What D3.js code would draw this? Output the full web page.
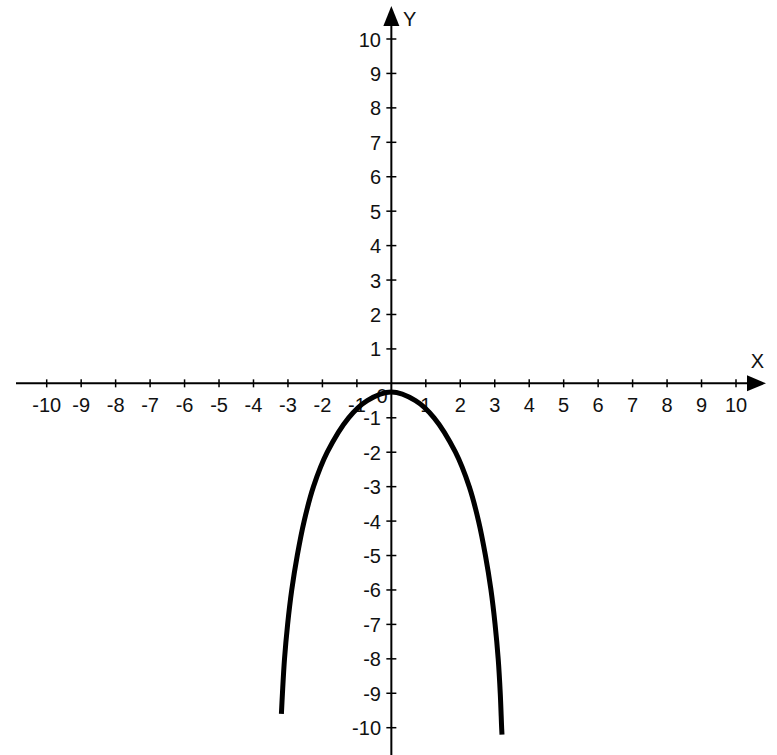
<!DOCTYPE html>
<html>
<head>
<meta charset="utf-8">
<script src="https://cdn.jsdelivr.net/npm/d3@7"></script>
<style>
  html, body { margin: 0; padding: 0; background: #fff; }
  svg { display: block; }
  text { font-family: "Liberation Sans", Arial, sans-serif; fill: #111; }
</style>
</head>
<body>
<svg id="chart" width="777" height="755"></svg>
<script>
// Tick values along each axis
const xTicks = [-10, -9, -8, -7, -6, -5, -4, -3, -2, -1, 1, 2, 3, 4, 5, 6, 7, 8, 9, 10];
const yTicks = [-10, -9, -8, -7, -6, -5, -4, -3, -2, -1, 1, 2, 3, 4, 5, 6, 7, 8, 9, 10];

// Points along the curve (x values, then y values)
const curveX = [-3.19, -3.16, -3.10, -3.01, -2.89, -2.73, -2.53, -2.26, -1.86, -1.24, -0.7, 0,
                0.7, 1.24, 1.86, 2.26, 2.53, 2.73, 2.89, 3.01, 3.10, 3.16, 3.20, 3.21];
const curveY = [-9.6, -9, -8, -7, -6, -5, -4, -3, -2, -1, -0.5, -0.25,
                -0.5, -1, -2, -3, -4, -5, -6, -7, -8, -9, -10, -10.2];

const svg = d3.select("#chart");

const x = d3.scaleLinear().domain([-10, 10]).range([46.7, 736]);
const y = d3.scaleLinear().domain([-10, 10]).range([727.7, 39]);

const x0 = x(0), y0 = y(0);
const ink = "#000";

// Axis lines
svg.append("line")
  .attr("x1", 16).attr("x2", 750).attr("y1", y0).attr("y2", y0)
  .attr("stroke", ink).attr("stroke-width", 2);
svg.append("line")
  .attr("x1", x0).attr("x2", x0).attr("y1", 20).attr("y2", 755)
  .attr("stroke", ink).attr("stroke-width", 2);

// Arrowheads
svg.append("path")
  .attr("d", `M747,${y0 - 8}L766,${y0}L747,${y0 + 8}Z`)
  .attr("fill", ink);
svg.append("path")
  .attr("d", `M${x0 - 8},26L${x0},6L${x0 + 8},26Z`)
  .attr("fill", ink);

// Axis names
svg.append("text").attr("x", 757.5).attr("y", 368)
  .attr("text-anchor", "middle").attr("font-size", 20).text("X");
svg.append("text").attr("x", 403).attr("y", 26)
  .attr("font-size", 20).text("Y");

// X ticks and labels
svg.append("g").selectAll("line").data(xTicks).join("line")
  .attr("x1", d => x(d)).attr("x2", d => x(d))
  .attr("y1", y0 - 4).attr("y2", y0 + 4)
  .attr("stroke", ink).attr("stroke-width", 1.5);
svg.append("g").selectAll("text").data(xTicks).join("text")
  .attr("x", d => x(d)).attr("y", 412)
  .attr("text-anchor", "middle").attr("font-size", 20)
  .text(d => d);

// Y ticks and labels
svg.append("g").selectAll("line").data(yTicks).join("line")
  .attr("x1", x0 - 5).attr("x2", x0 + 5)
  .attr("y1", d => y(d)).attr("y2", d => y(d))
  .attr("stroke", ink).attr("stroke-width", 1.5);
svg.append("g").selectAll("text").data(yTicks).join("text")
  .attr("x", 381).attr("y", d => y(d) + 7.5)
  .attr("text-anchor", "end").attr("font-size", 20)
  .text(d => d);

// Origin label
svg.append("text").attr("x", 382).attr("y", 403)
  .attr("text-anchor", "middle").attr("font-size", 20).text("0");

// The curve
const pts = curveX.map((v, i) => [v, curveY[i]]);
const line = d3.line()
  .x(d => x(d[0])).y(d => y(d[1]))
  .curve(d3.curveCatmullRom.alpha(0.5));
svg.append("path")
  .datum(pts)
  .attr("d", line)
  .attr("fill", "none")
  .attr("stroke", ink)
  .attr("stroke-width", 5);
</script>
</body>
</html>
